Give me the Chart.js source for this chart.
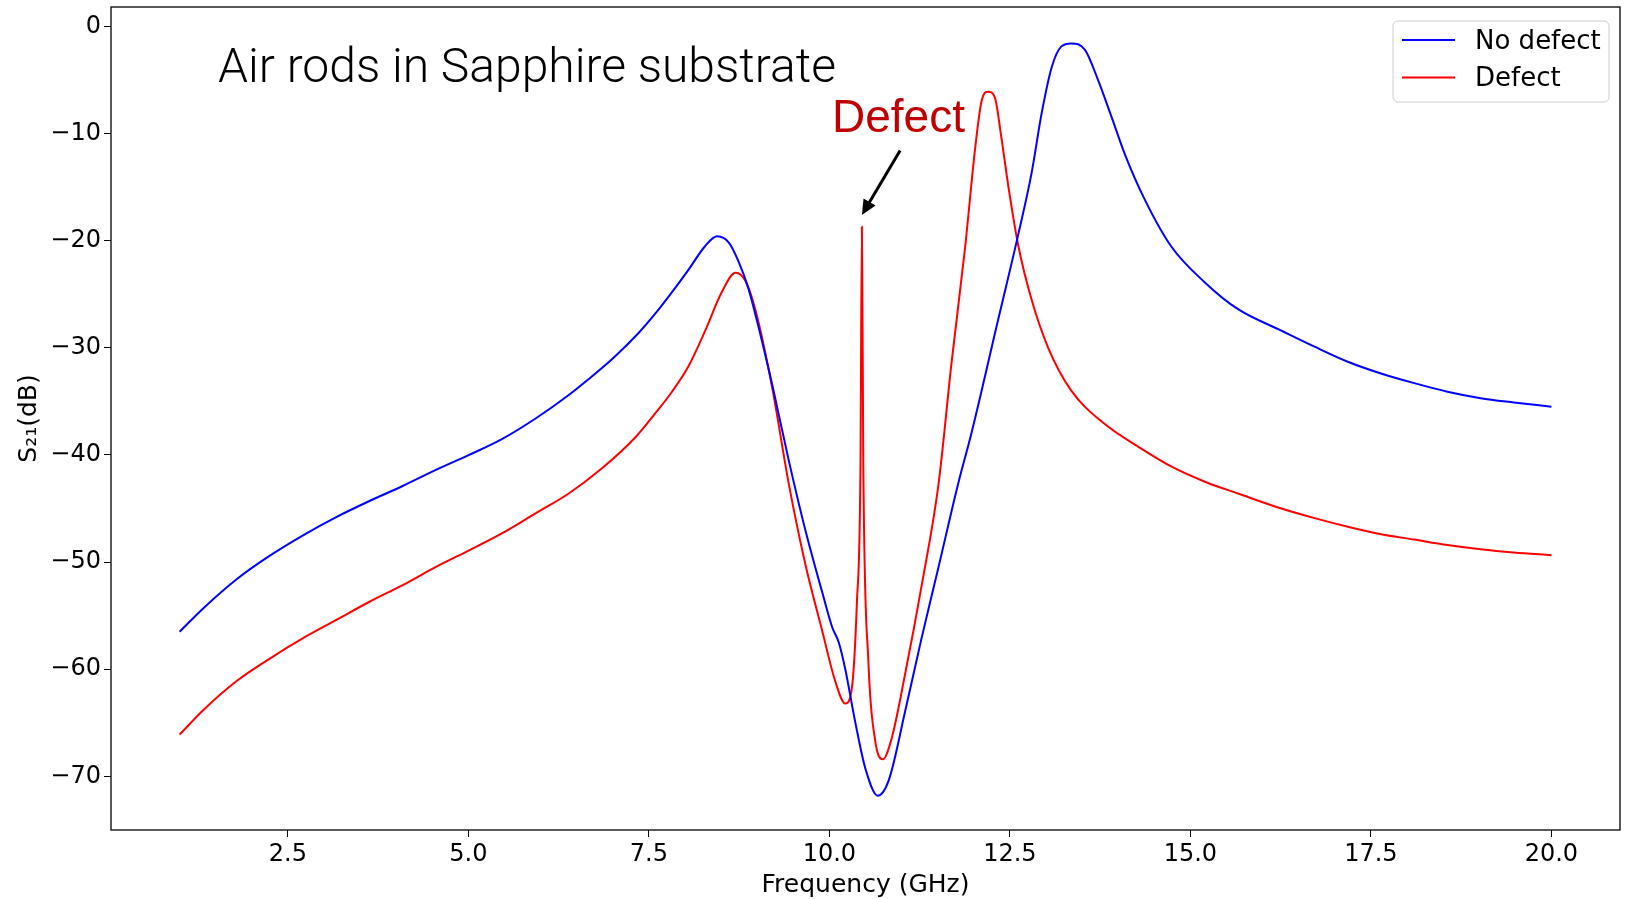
<!DOCTYPE html>
<html>
<head>
<meta charset="utf-8">
<script src="https://cdn.jsdelivr.net/npm/chart.js@4.4.0/dist/chart.umd.min.js"></script>
<style>
    html, body { margin: 0; padding: 0; background: #fff; }
    #wrap { width: 1632px; height: 899px; }
</style>
</head>
<body>
<div id="wrap"><canvas id="s21Chart" width="1632" height="899"></canvas></div>
<script>
// values
var freq_no_defect = [
    1.00, 1.33, 1.79, 2.25, 2.71, 3.17, 3.63, 4.09, 4.55, 5.01, 5.47, 5.93,
    6.39, 6.65, 7.00, 7.36, 7.59, 7.82, 8.05, 8.28, 8.445, 8.61, 8.745, 8.88,
    9.02, 9.21, 9.44, 9.67, 9.90, 10.04, 10.13, 10.22, 10.36, 10.50, 10.67,
    10.82, 11.05, 11.28, 11.51, 11.79, 11.97, 12.34, 12.62, 12.80, 12.94,
    13.08, 13.21, 13.35, 13.54, 13.72, 13.91, 14.09, 14.37, 14.74, 15.20,
    15.66, 16.26, 16.72, 17.18, 17.64, 18.10, 18.56, 19.02, 19.48, 20.00
];
var s21_no_defect = [
    -56.5, -54.3, -51.6, -49.4, -47.5, -45.8, -44.3, -42.9, -41.4, -40.0, -38.5, -36.6,
    -34.4, -33.0, -31.0, -28.6, -26.8, -24.8, -22.7, -20.5, -19.6, -20.2, -22.0, -24.5,
    -28.1, -33.5, -40.6, -47.1, -52.8, -56.1, -57.5, -60.0, -65.0, -69.3, -71.8,
    -70.4, -63.9, -57.0, -50.5, -42.5, -37.9, -27.3, -19.3, -13.7, -8.1,
    -3.8, -1.9, -1.6, -2.2, -5.0, -8.5, -11.9, -16.2, -20.6, -23.9,
    -26.4, -28.4, -29.9, -31.3, -32.4, -33.3, -34.1, -34.7, -35.1, -35.5
];

var freq_defect = [
    1.00, 1.33, 1.79, 2.25, 2.71, 3.17, 3.63, 4.09, 4.55, 5.01, 5.47, 5.93,
    6.39, 6.85, 7.32, 7.59, 7.82, 8.05, 8.28, 8.51, 8.70, 8.84, 8.98, 9.21,
    9.44, 9.67, 9.90, 10.08, 10.22, 10.31, 10.38, 10.43, 10.45, 10.47, 10.54,
    10.63, 10.74, 10.86, 11.05, 11.28, 11.51, 11.69, 11.88, 12.02, 12.11,
    12.20, 12.29, 12.38, 12.48, 12.62, 12.80, 13.03, 13.35, 13.81, 14.27,
    14.74, 15.20, 15.66, 16.26, 16.72, 17.18, 17.64, 18.10, 18.56, 19.02,
    19.48, 20.00
];
var s21_defect = [
    -66.1, -63.8, -61.1, -59.0, -57.1, -55.4, -53.7, -52.15, -50.45, -48.9, -47.3, -45.45,
    -43.6, -41.25, -38.3, -36.1, -34.1, -31.7, -28.4, -24.8, -23.0, -23.8, -26.6, -33.8,
    -42.8, -50.3, -56.4, -61.1, -63.2, -61.8, -53.9, -41.3, -18.7, -41.3, -59.3,
    -66.5, -68.4, -66.5, -60.4, -52.1, -42.8, -31.5, -20.6, -11.3, -6.9,
    -6.1, -6.6, -10.3, -15.0, -20.6, -25.5, -30.0, -34.0, -37.1, -39.2,
    -41.1, -42.5, -43.6, -45.0, -45.9, -46.7, -47.4, -47.9, -48.4, -48.8,
    -49.1, -49.35
];

var series_labels = ["No defect", "Defect"];
var x_ticks = [2.5, 5.0, 7.5, 10.0, 12.5, 15.0, 17.5, 20.0];
var y_ticks = [0, -10, -20, -30, -40, -50, -60, -70];
var plot_title = "Air rods in Sapphire substrate";
var defect_label = "Defect";

function toPoints(xs, ys) {
    return xs.map((x, i) => ({ x: x, y: ys[i] }));
}

//- frame, text, arrow, legend -
var overlay = {
    id: "overlay",
    afterDraw: function (chart) {
        var ctx = chart.ctx;
        var a = chart.chartArea;
        var sx = chart.scales.x;
        var sy = chart.scales.y;
        ctx.save();

        // box around the axes
        ctx.strokeStyle = "#000";
        ctx.lineWidth = 1.3;
        ctx.strokeRect(a.left, a.top, a.right - a.left, a.bottom - a.top);

        // title inside the plot
        ctx.fillStyle = "#000";
        ctx.textBaseline = "alphabetic";
        ctx.textAlign = "left";
        ctx.font = "300 48px Roboto, 'Liberation Sans', sans-serif";
        ctx.fillText(plot_title, 218, 82);

        // "Defect" note and arrow to the spike
        ctx.fillStyle = "#c00000";
        ctx.font = "46px 'Liberation Sans', Arial, sans-serif";
        ctx.fillText(defect_label, 832, 132);

        var tipX = sx.getPixelForValue(10.45);
        var tipY = sy.getPixelForValue(-17.6);
        var tailX = sx.getPixelForValue(10.98);
        var tailY = sy.getPixelForValue(-11.6);
        var dx = tipX - tailX, dy = tipY - tailY;
        var len = Math.sqrt(dx * dx + dy * dy);
        var ux = dx / len, uy = dy / len;
        var headL = 15, headW = 7;
        var baseX = tipX - ux * headL, baseY = tipY - uy * headL;
        ctx.strokeStyle = "#000";
        ctx.lineWidth = 3;
        ctx.beginPath();
        ctx.moveTo(tailX, tailY);
        ctx.lineTo(baseX + ux * 2, baseY + uy * 2);
        ctx.stroke();
        ctx.fillStyle = "#000";
        ctx.beginPath();
        ctx.moveTo(tipX, tipY);
        ctx.lineTo(baseX - uy * headW, baseY + ux * headW);
        ctx.lineTo(baseX + uy * headW, baseY - ux * headW);
        ctx.closePath();
        ctx.fill();

        // legend
        var bx = 1393, by = 21, bw = 216, bh = 81, r = 5;
        ctx.beginPath();
        ctx.moveTo(bx + r, by);
        ctx.arcTo(bx + bw, by, bx + bw, by + bh, r);
        ctx.arcTo(bx + bw, by + bh, bx, by + bh, r);
        ctx.arcTo(bx, by + bh, bx, by, r);
        ctx.arcTo(bx, by, bx + bw, by, r);
        ctx.closePath();
        ctx.fillStyle = "rgba(255,255,255,0.8)";
        ctx.fill();
        ctx.strokeStyle = "#cccccc";
        ctx.lineWidth = 1;
        ctx.stroke();

        ctx.font = "26px 'DejaVu Sans', sans-serif";
        ctx.textBaseline = "middle";
        chart.data.datasets.forEach(function (ds, i) {
            var ly = 40 + i * 37.5;
            ctx.strokeStyle = ds.borderColor;
            ctx.lineWidth = 2;
            ctx.beginPath();
            ctx.moveTo(1402, ly);
            ctx.lineTo(1455, ly);
            ctx.stroke();
            ctx.fillStyle = "#000";
            ctx.fillText(ds.label, 1475, ly + 2);
        });

        ctx.restore();
    },
};

var tickFont = { family: "'DejaVu Sans', sans-serif", size: 24 };

new Chart(document.getElementById("s21Chart").getContext("2d"), {
    type: "line",
    data: {
        datasets: [
            {
                label: series_labels[0],
                data: toPoints(freq_no_defect, s21_no_defect),
                borderColor: "#0000ff",
                borderWidth: 2,
                pointRadius: 0,
                cubicInterpolationMode: "monotone",
                fill: false,
            },
            {
                label: series_labels[1],
                data: toPoints(freq_defect, s21_defect),
                borderColor: "#ff0000",
                borderWidth: 2,
                pointRadius: 0,
                cubicInterpolationMode: "monotone",
                fill: false,
            },
        ],
    },
    options: {
        responsive: false,
        animation: false,
        events: [],
        layout: { padding: { top: 7, right: 12, left: 0, bottom: 0 } },
        plugins: {
            legend: { display: false },
            tooltip: { enabled: false },
        },
        scales: {
            x: {
                type: "linear",
                min: 0.05,
                max: 20.95,
                afterBuildTicks: (s) => {
                    s.ticks = x_ticks.map((v) => ({ value: v }));
                },
                afterFit: (s) => {
                    s.height = 69;
                    s.paddingLeft = 0;
                    s.paddingRight = 0;
                },
                ticks: {
                    color: "#000",
                    font: tickFont,
                    padding: 3,
                    maxRotation: 0,
                    callback: (v) => Number(v).toFixed(1),
                },
                grid: { drawOnChartArea: false, color: "#000", tickLength: 7 },
                border: { display: false },
                title: {
                    display: true,
                    text: "Frequency (GHz)",
                    color: "#000",
                    font: { family: "'DejaVu Sans', sans-serif", size: 25 },
                    padding: { top: 0, bottom: -1 },
                },
            },
            y: {
                min: -75,
                max: 1.8,
                afterBuildTicks: (s) => {
                    s.ticks = y_ticks.map((v) => ({ value: v }));
                },
                afterFit: (s) => {
                    s.width = 111;
                    s.paddingTop = 0;
                    s.paddingBottom = 0;
                },
                ticks: {
                    color: "#000",
                    font: tickFont,
                    padding: 3,
                    callback: (v) => (v < 0 ? "\u2212" + Math.abs(v) : String(v)),
                },
                grid: { drawOnChartArea: false, color: "#000", tickLength: 7 },
                border: { display: false },
                title: {
                    display: true,
                    text: "S\u2082\u2081(dB)",
                    color: "#000",
                    font: { family: "'DejaVu Sans', sans-serif", size: 25 },
                    padding: { top: 14, bottom: 0 },
                },
            },
        },
    },
    plugins: [overlay],
});
</script>
</body>
</html>
